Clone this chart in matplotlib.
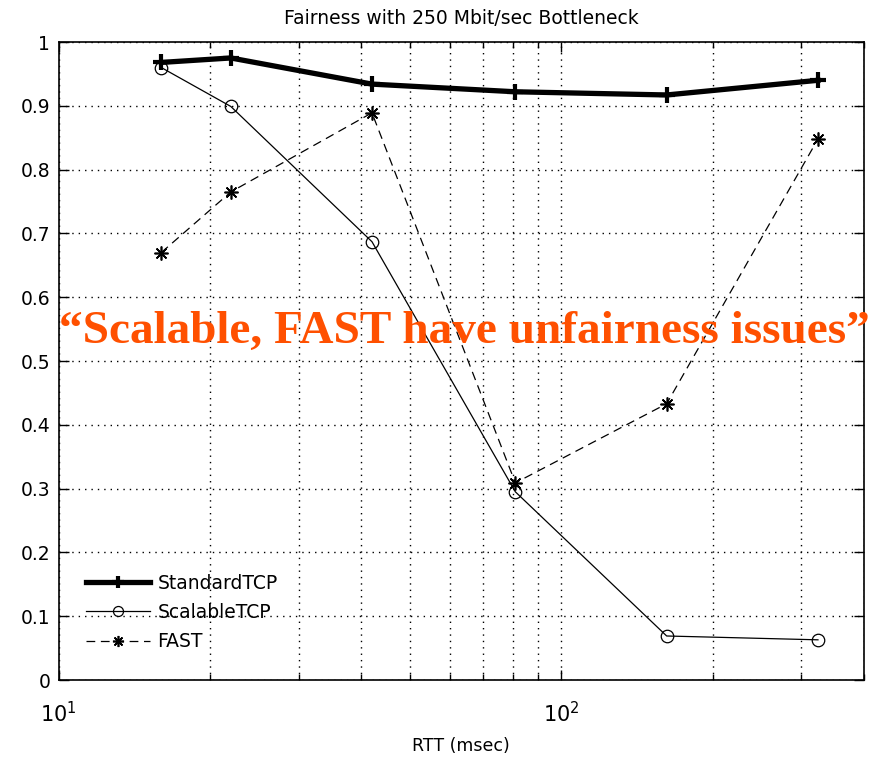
import matplotlib
matplotlib.use("Agg")
import matplotlib.pyplot as plt
from matplotlib.ticker import LogLocator, MultipleLocator, NullFormatter

# RTT values (msec) and fairness index per protocol
rtt = [16, 22, 42, 81, 162, 324]
standard_tcp = [0.968, 0.975, 0.934, 0.922, 0.917, 0.940]
scalable_tcp = [0.960, 0.899, 0.687, 0.295, 0.069, 0.063]
fast = [0.670, 0.765, 0.889, 0.309, 0.433, 0.848]

plt.rcParams['font.family'] = ['DejaVu Sans']

fig = plt.figure(figsize=(8.81, 7.57), dpi=100)
ax = fig.add_axes([0.0666, 0.1017, 0.9141, 0.8428])

ax.plot(rtt, standard_tcp, color='black', lw=3.8, marker='+', ms=11, mew=3,
        label='StandardTCP')
ax.plot(rtt, scalable_tcp, color='black', lw=0.9, marker='o', ms=9,
        mfc='none', mew=0.9, label='ScalableTCP')
ax.plot(rtt, fast, color='black', lw=0.9, ls=(0, (7, 4.5)), marker=(8, 2, 0),
        ms=10, mew=1.2, label='FAST')

ax.set_xscale('log')
ax.set_xlim(10, 400)
ax.set_ylim(0, 1)
ax.yaxis.set_major_locator(MultipleLocator(0.1))
ax.yaxis.set_major_formatter(plt.FuncFormatter(lambda v, p: f'{v:g}'))
ax.xaxis.set_major_locator(LogLocator(base=10))
ax.xaxis.set_minor_locator(LogLocator(base=10, subs=range(2, 10)))
ax.xaxis.set_minor_formatter(NullFormatter())

grid_style = dict(color='black', lw=1.0, ls=(0, (1, 3.6)))
ax.grid(True, which='major', **grid_style)
ax.grid(True, which='minor', axis='x', **grid_style)

ax.tick_params(which='both', direction='in', top=True, right=True, width=1)
ax.tick_params(which='major', length=7)
ax.tick_params(which='minor', length=4)
ax.tick_params(axis='y', labelsize=13.5, pad=6)
ax.tick_params(axis='x', pad=15, labelsize=15)
for s in ax.spines.values():
    s.set_linewidth(1.2)

ax.set_title('Fairness with 250 Mbit/sec Bottleneck', fontsize=13.5, pad=13)
ax.set_xlabel('RTT (msec)', fontsize=12.5, labelpad=8)

ax.legend(loc='lower left', bbox_to_anchor=(0.034, 0.045), frameon=False,
          fontsize=13.5, handlelength=3.4, handletextpad=0.4, labelspacing=0.55,
          borderpad=0, borderaxespad=0, markerscale=0.8)

fig.text(464 / 881, 1 - 343 / 757,
         '\u201cScalable, FAST have unfairness issues\u201d',
         family='Liberation Serif', weight='bold', fontsize=34,
         color='#ff5000', ha='center', va='baseline')

fig.savefig('out.png', dpi=100)
